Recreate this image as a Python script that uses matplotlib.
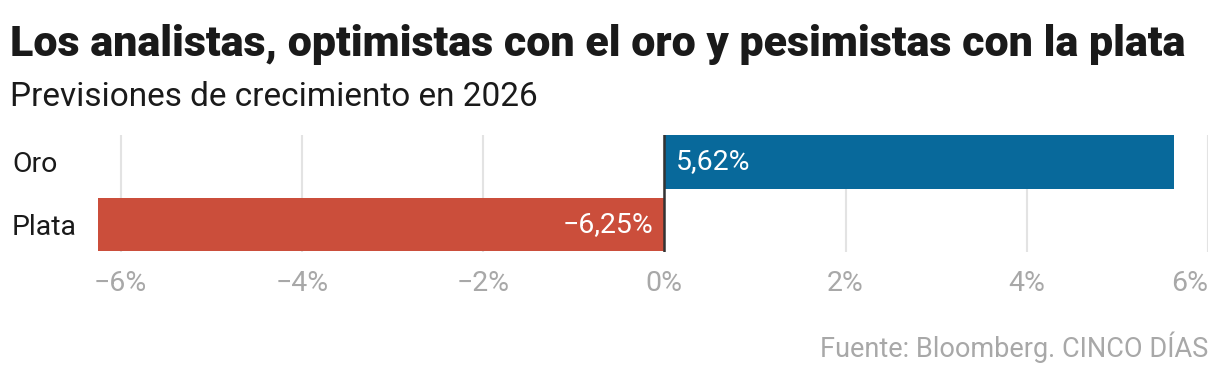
import matplotlib
matplotlib.use("Agg")
import matplotlib.pyplot as plt

categories = ["Oro", "Plata"]
values = [5.62, -6.25]
bar_labels = ["5,62%", "\u22126,25%"]
xticks = [-6, -4, -2, 0, 2, 4, 6]
xtick_labels = ["\u22126%", "\u22124%", "\u22122%", "0%", "2%", "4%", "6%"]
colors = ["#08699b", "#cb4e3b"]

title = "Los analistas, optimistas con el oro y pesimistas con la plata"
subtitle = "Previsiones de crecimiento en 2026"
source = "Fuente: Bloomberg. CINCO DÍAS"

FONT = ["Roboto", "DejaVu Sans"]
plt.rcParams["font.family"] = FONT

W, H = 1220, 376
fig = plt.figure(figsize=(W / 100, H / 100), dpi=100)
ax = fig.add_axes([98 / W, 1 - 252 / H, (1208 - 98) / W, (252 - 135) / H])

ypos = list(range(len(categories)))
ax.barh(ypos, values, height=0.86, color=colors, zorder=2)
ax.set_xlim(-6.25, 6.0)
ax.set_ylim(1.44, -0.43)

ax.set_xticks(xticks)
ax.set_xticklabels(xtick_labels, fontsize=20.5, color="#a8a8a8")
ax.get_xticklabels()[-1].set_ha("right")
ax.tick_params(axis="x", length=0, pad=13)
ax.set_yticks(ypos)
ax.set_yticklabels(categories, fontsize=20.5, color="#1a1a1a", ha="left")
ax.tick_params(axis="y", length=0, pad=62)
ax.grid(axis="x", color="#e3e3e3", linewidth=1.5, zorder=0)
for s in ax.spines.values():
    s.set_visible(False)
ax.axvline(0, color="#333333", linewidth=1.8, zorder=3)

for y, v, lab in zip(ypos, values, bar_labels):
    if v >= 0:
        ax.annotate(lab, (0, y), xytext=(8, 0), textcoords="offset points",
                    ha="left", va="center", color="white", fontsize=20.5, zorder=4)
    else:
        ax.annotate(lab, (0, y), xytext=(-8, 0), textcoords="offset points",
                    ha="right", va="center", color="white", fontsize=20.5, zorder=4)

fig.text(10 / W, 1 - 56 / H, title, fontsize=31, fontweight=900,
         color="#1a1a1a", ha="left", va="baseline")
fig.text(10 / W, 1 - 106 / H, subtitle, fontsize=24, color="#1a1a1a",
         ha="left", va="baseline")
fig.text(1208 / W, 1 - 357 / H, source, fontsize=19.5, color="#a8a8a8",
         ha="right", va="baseline")

fig.savefig("out.png", dpi=100)
